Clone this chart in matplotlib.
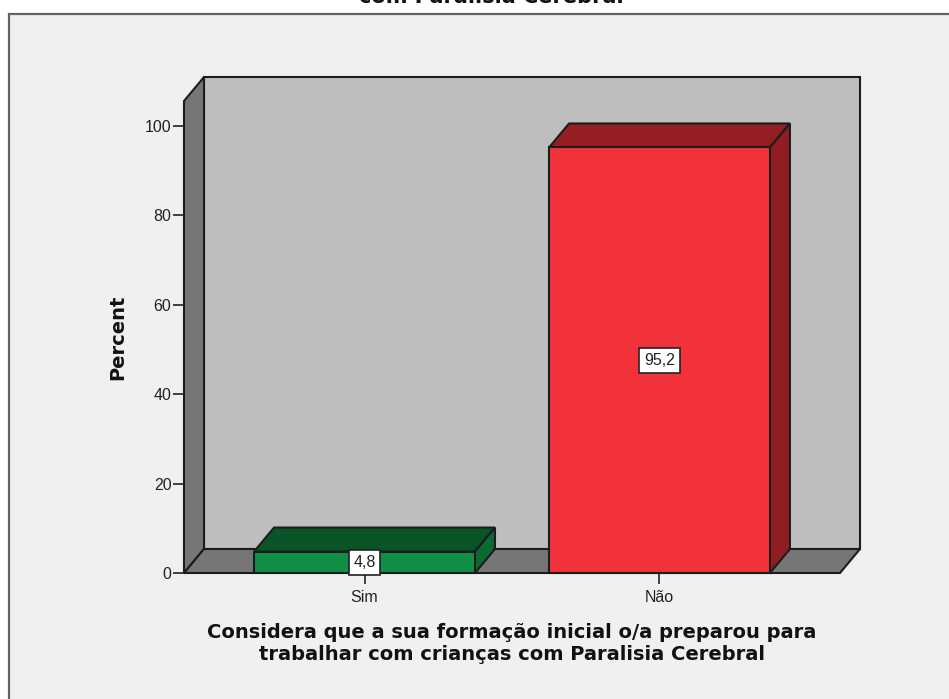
import matplotlib
matplotlib.use("Agg")
import matplotlib.pyplot as plt
from matplotlib.patches import Polygon, Rectangle

W, H = 949, 699

# === Datos ===
categorias = ["Sim", "Não"]
porcentajes = [4.8, 95.2]
etiquetas = ["4,8", "95,2"]
colores_frente = ["#128f47", "#f2323a"]
colores_tope = ["#0a5528", "#941e22"]
colores_lado = ["#0b6a32", "#8f1d21"]
y_ticks = [0, 20, 40, 60, 80, 100]

plt.rcParams["font.family"] = ["Liberation Sans", "DejaVu Sans"]

fig = plt.figure(figsize=(W / 100, H / 100), dpi=100, facecolor="white")


def caja_px(x0, y0, x1, y1):
    # fracciones de figura a partir de pixeles (origen arriba a la izquierda)
    return [x0 / W, 1 - y1 / H, (x1 - x0) / W, (y1 - y0) / H]


# === Fondo del grafico ===
fondo = fig.add_axes([0, 0, 1, 1], zorder=0)
fondo.set_xlim(0, W)
fondo.set_ylim(H, 0)
fondo.axis("off")
fondo.add_patch(Rectangle((9.5, 14), 1000, 800, facecolor="#f0f0f0", edgecolor="#626262", lw=1.6))

# === Ejes: 0-100 y dos categorias ===
ax = fig.add_axes(caja_px(184, 101, 840, 573), zorder=1)
ax.set_xlim(-0.612, 1.612)
ax.set_ylim(0, 105.6)
ax.patch.set_visible(False)
for lado in ax.spines.values():
    lado.set_visible(False)

x_min, x_max = ax.get_xlim()
y_max = ax.get_ylim()[1]
dx, dy = 0.0678, 5.37
ancho = 0.749
borde = dict(edgecolor="#1c1c1c", lw=1.5, joinstyle="miter", clip_on=False)

# pared del fondo, pared izquierda y piso
ax.add_patch(Polygon([(x_min + dx, dy), (x_max + dx, dy), (x_max + dx, y_max + dy), (x_min + dx, y_max + dy)],
                     facecolor="#bebebe", zorder=1, **borde))
ax.add_patch(Polygon([(x_min, 0), (x_min + dx, dy), (x_min + dx, y_max + dy), (x_min, y_max)],
                     facecolor="#767676", zorder=1, **borde))
ax.add_patch(Polygon([(x_min, 0), (x_max, 0), (x_max + dx, dy), (x_min + dx, dy)],
                     facecolor="#767676", zorder=1, **borde))

# barras con tope y lateral
for i, valor in enumerate(porcentajes):
    x0, x1 = i - ancho / 2, i + ancho / 2
    ax.add_patch(Polygon([(x0, valor), (x1, valor), (x1 + dx, valor + dy), (x0 + dx, valor + dy)],
                         facecolor=colores_tope[i], zorder=3, **borde))
    ax.add_patch(Polygon([(x1, 0), (x1 + dx, dy), (x1 + dx, valor + dy), (x1, valor)],
                         facecolor=colores_lado[i], zorder=3, **borde))
    ax.add_patch(Rectangle((x0, 0), ancho, valor, facecolor=colores_frente[i], zorder=4, **borde))
    ax.text(i, valor / 2, etiquetas[i], ha="center", va="center", fontsize=11.5, color="#222222", zorder=6,
            bbox=dict(boxstyle="square,pad=0.3", facecolor="white", edgecolor="#222222", lw=1.2))

ax.set_xticks(range(len(categorias)))
ax.set_xticklabels(categorias)
ax.set_yticks(y_ticks)
ax.tick_params(axis="x", length=8, width=1.2, pad=4, labelsize=11.5, color="#222222", labelcolor="#222222")
ax.tick_params(axis="y", length=8, width=1.2, pad=1, labelsize=11.5, color="#222222", labelcolor="#222222")

# === Textos ===
fig.text(118 / W, 1 - 337 / H, "Percent", rotation=90, fontsize=14, fontweight="bold", ha="center", va="center",
         color="#111111", family=["DejaVu Sans"])
fig.text(512 / W, 1 - 643 / H, "Considera que a sua formação inicial o/a preparou para\ntrabalhar com crianças com Paralisia Cerebral",
         fontsize=14, fontweight="bold", ha="center", va="center", linespacing=1.2, color="#111111",
         family=["DejaVu Sans"])
fig.text(491 / W, 1 + 3 / H, "com Paralisia Cerebral", fontsize=15, fontweight="bold", ha="center", va="center",
         color="#111111", family=["DejaVu Sans"])

fig.savefig("out.png", dpi=100)
plt.close(fig)
